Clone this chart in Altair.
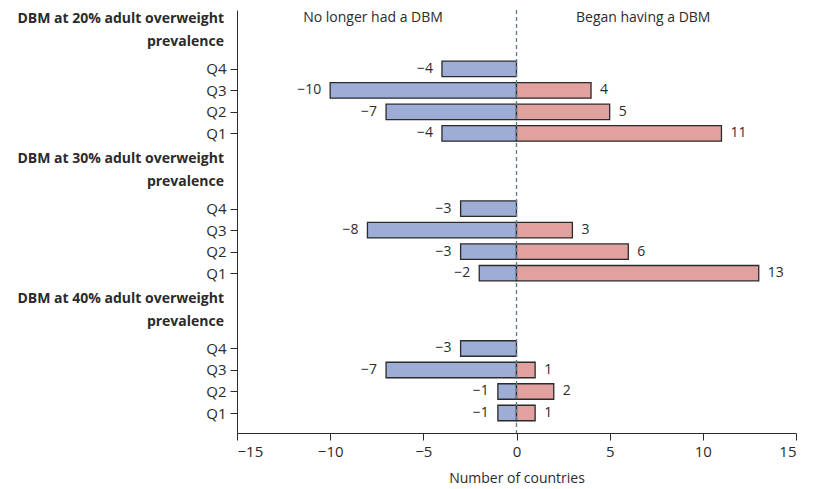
import altair as alt
import pandas as pd

groups = ["DBM at 20% adult overweight prevalence",
          "DBM at 30% adult overweight prevalence",
          "DBM at 40% adult overweight prevalence"]
header_lines = [["DBM at 20% adult overweight", "prevalence"],
                ["DBM at 30% adult overweight", "prevalence"],
                ["DBM at 40% adult overweight", "prevalence"]]
quartiles = ["Q4", "Q3", "Q2", "Q1"]
no_longer = [[-4, -10, -7, -4],
             [-3, -8, -3, -2],
             [-3, -7, -1, -1]]
began = [[0, 4, 5, 11],
         [0, 3, 6, 13],
         [0, 1, 2, 1]]
col_labels = ["No longer had a DBM", "Began having a DBM"]
col_label_x = [-7.7, 6.8]

FONT = "Open Sans"
BLUE = "#9dadd6"
PINK = "#e0a19f"
DARK = "#2b2b2b"

GROUP_STEP = 6.5

def fmt(v):
    return ("\u2212" + str(-v)) if v < 0 else str(v)

def key(v):
    return str(int(v)) if float(v).is_integer() else str(v)

rows = []
for g in range(len(groups)):
    for q, qn in enumerate(quartiles):
        pos = g * GROUP_STEP + q
        for v, side in ((no_longer[g][q], "neg"), (began[g][q], "pos")):
            if v == 0:
                continue
            rows.append({"group": groups[g], "q": qn, "pos": pos,
                         "y0": pos - 0.36, "y1": pos + 0.36,
                         "v": v, "zero": 0, "side": side, "label": fmt(v)})
df = pd.DataFrame(rows)

tick_pos = [g * GROUP_STEP + q for g in range(len(groups)) for q in range(4)]
tick_lab = {key(g * GROUP_STEP + q): quartiles[q] for g in range(len(groups)) for q in range(4)}
label_expr = "{" + ",".join(f"'{k}':'{v}'" for k, v in tick_lab.items()) + "}[datum.value + '']"

hdr_rows = []
for g in range(len(groups)):
    for i, line in enumerate(header_lines[g]):
        hdr_rows.append({"text": line, "pos": g * GROUP_STEP - 2.3 + i * 1.06})
hdf = pd.DataFrame(hdr_rows)

cdf = pd.DataFrame({"text": col_labels, "x": col_label_x})

ydomain = [-2.74, 16.93]
xscale = alt.Scale(domain=[-15, 15], nice=False, zero=False)
yscale = alt.Scale(domain=ydomain, reverse=True, nice=False, zero=False)

base = alt.Chart(df)

bars = base.mark_bar(stroke=DARK, strokeWidth=1.3).encode(
    x=alt.X("v:Q", scale=xscale,
            axis=alt.Axis(values=[-15, -10, -5, 0, 5, 10, 15], title="Number of countries",
                          grid=False, tickSize=7, labelFontSize=15, titleFontSize=14,
                          labelFont=FONT, titleFont=FONT, titleFontWeight="normal",
                          labelColor=DARK, titleColor=DARK, domainColor=DARK, tickColor=DARK,
                          labelPadding=4, titlePadding=12)),
    x2="zero:Q",
    y=alt.Y("y0:Q", scale=yscale,
            axis=alt.Axis(values=tick_pos, tickCount=100, labelExpr=label_expr, title=None,
                          grid=False, labelOverlap=False, tickSize=7, labelFontSize=15,
                          labelFont=FONT, labelColor=DARK, domainColor=DARK, tickColor=DARK,
                          labelPadding=4)),
    y2="y1:Q",
    fill=alt.Fill("side:N", scale=alt.Scale(domain=["neg", "pos"], range=[BLUE, PINK]), legend=None),
)

neg_text = base.transform_filter("datum.side == 'neg'").mark_text(
    align="right", baseline="middle", dx=-9, fontSize=14, font=FONT, color=DARK
).encode(x="v:Q", y="pos:Q", text="label:N")

pos_text = base.transform_filter("datum.side == 'pos'").mark_text(
    align="left", baseline="middle", dx=9, fontSize=14, font=FONT, color=DARK
).encode(x="v:Q", y="pos:Q", text="label:N")

zero_rule = alt.Chart(pd.DataFrame({"z": [0]})).mark_rule(
    color="#5b7b8c", strokeDash=[4, 3], strokeWidth=1.3
).encode(x="z:Q")

headers = alt.Chart(hdf).mark_text(
    align="right", baseline="middle", fontSize=14, font=FONT, fontWeight="bold", color=DARK
).encode(x=alt.value(-13), y=alt.Y("pos:Q"), text="text:N")

cols = alt.Chart(cdf).mark_text(
    baseline="middle", fontSize=14, font=FONT, color=DARK
).encode(x="x:Q", y=alt.value(8), text="text:N")

chart = alt.layer(bars, zero_rule, neg_text, pos_text, headers, cols).properties(
    width=559, height=423,
    autosize=alt.AutoSizeParams(type="none"),
    padding={"left": 229, "top": 2, "right": 13, "bottom": 56},
).configure_view(stroke=None)

chart.save("out.html", embed_options={"renderer": "svg", "actions": False})
